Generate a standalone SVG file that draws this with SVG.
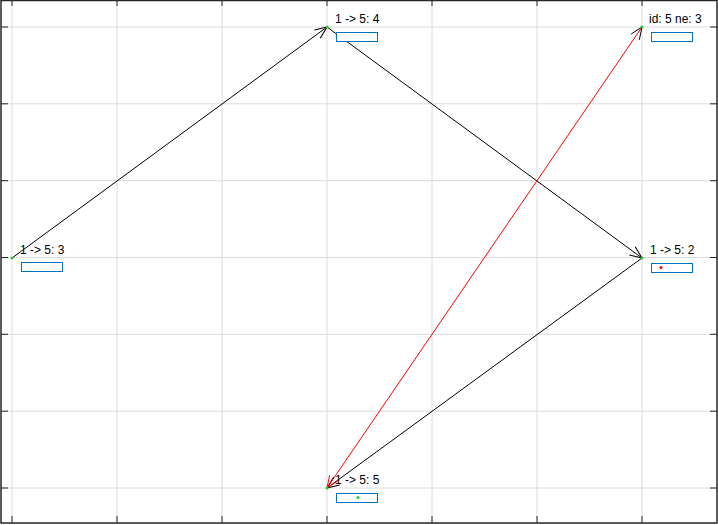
<svg xmlns="http://www.w3.org/2000/svg" width="718" height="525" viewBox="0 0 718 525">
<defs>
<style>
.grid{stroke:#dcdcdc;stroke-width:1;fill:none}
.tick{stroke:#262626;stroke-width:1;fill:none}
.lbl{font-family:"Liberation Sans",Arial,sans-serif;font-size:12px;fill:#000}
.box{fill:#fff;stroke:#0072bd;stroke-width:1}
.edge{fill:none;stroke:#000;stroke-width:1}
.edge-red{fill:none;stroke:#ff0000;stroke-width:1}
.pt{fill:#22cc22}
</style>
<marker id="ah" markerUnits="userSpaceOnUse" markerWidth="16" markerHeight="16" refX="14" refY="8" orient="auto" overflow="visible">
<path d="M2,3 L14,8 L2,13" fill="none" stroke="#000" stroke-width="1"/>
</marker>
<marker id="ahr" markerUnits="userSpaceOnUse" markerWidth="16" markerHeight="16" refX="14" refY="8" orient="auto" overflow="visible">
<path d="M2,3 L14,8 L2,13" fill="none" stroke="#ff0000" stroke-width="1"/>
</marker>
</defs>
<rect x="0" y="0" width="718" height="525" fill="#fff"/>
<g id="grid">
<path class="grid" d="M12,0V523 M117,0V523 M222,0V523 M327,0V523 M432,0V523 M537,0V523 M642,0V523"/>
<path class="grid" d="M1,27H717 M1,103.8H717 M1,180.7H717 M1,257.5H717 M1,334.3H717 M1,411.2H717 M1,488H717"/>
</g>
<g id="axes">
<path class="tick" d="M1,27H8 M1,103.8H8 M1,180.7H8 M1,257.5H8 M1,334.3H8 M1,411.2H8 M1,488H8"/>
<path class="tick" d="M717,27H710 M717,103.8H710 M717,180.7H710 M717,257.5H710 M717,334.3H710 M717,411.2H710 M717,488H710"/>
<path class="tick" d="M12,523V516 M117,523V516 M222,523V516 M327,523V516 M432,523V516 M537,523V516 M642,523V516"/>
<path class="tick" d="M12,0V6 M117,0V6 M222,0V6 M327,0V6 M432,0V6 M537,0V6 M642,0V6"/>
<rect x="1" y="0.5" width="716" height="522.5" fill="none" stroke="#262626" stroke-width="1.5"/>
</g>
<g id="connectors">
<line class="edge" x1="12" y1="258" x2="327" y2="27" marker-end="url(#ah)"/>
<line class="edge" x1="327" y1="27" x2="642" y2="258" marker-end="url(#ah)"/>
<line class="edge" x1="642" y1="258" x2="327" y2="488" marker-end="url(#ah)"/>
<line class="edge-red" x1="642" y1="27" x2="327" y2="488" marker-end="url(#ahr)"/>
<path class="edge" d="M639.36,39.73 L642,27 L631.1,34.09"/>
</g>
<g id="node1">
<circle class="pt" cx="12" cy="258" r="1.5"/>
<text class="lbl" x="20" y="254">1 -&gt; 5: 3</text>
<rect class="box" x="21.5" y="262.5" width="41" height="9"/>
</g>
<g id="node2">
<circle class="pt" cx="327" cy="27" r="1.5"/>
<text class="lbl" x="335" y="23">1 -&gt; 5: 4</text>
<rect class="box" x="336.5" y="32.5" width="41" height="9"/>
</g>
<g id="node3">
<circle class="pt" cx="642" cy="27" r="1.5"/>
<text class="lbl" x="649" y="23">id: 5 ne: 3</text>
<rect class="box" x="651.5" y="32.5" width="41" height="9"/>
</g>
<g id="node4">
<circle class="pt" cx="642" cy="258" r="1.5"/>
<text class="lbl" x="650" y="254">1 -&gt; 5: 2</text>
<rect class="box" x="651.5" y="263.5" width="41" height="9"/>
<circle cx="661" cy="267.5" r="1.5" fill="#ff0000"/>
</g>
<g id="node5">
<circle class="pt" cx="327" cy="488" r="1.5"/>
<text class="lbl" x="335" y="484">1 -&gt; 5: 5</text>
<rect class="box" x="336.5" y="493.5" width="41" height="9"/>
<circle cx="358" cy="497.5" r="1.5" fill="#22cc22"/>
</g>
</svg>
